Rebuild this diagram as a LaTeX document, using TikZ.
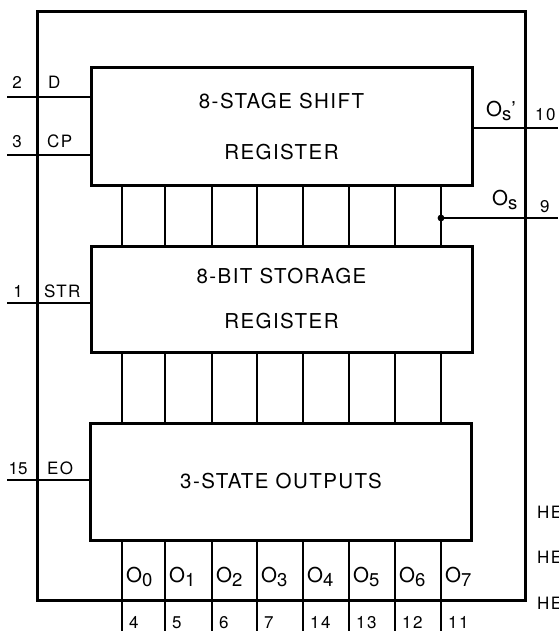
\documentclass[tikz,border=0pt]{standalone}
\usepackage{fontspec}
\setmainfont{TeX Gyre Heros}
\usetikzlibrary{positioning}

\begin{document}
\begin{tikzpicture}[x=1pt, y=-1pt,
  frame/.style={draw, line width=3pt, inner sep=0pt},
  block/.style={frame, minimum width=381pt, align=center,
    font=\fontsize{20.5}{51}\selectfont\addfontfeatures{LetterSpace=7}},
  wire/.style={line width=1.9pt},
  sig/.style={inner sep=0pt, anchor=base west,
    font=\fontsize{17}{17}\selectfont\addfontfeatures{LetterSpace=8}},
  pin/.style={inner sep=0pt, anchor=base, font=\fontsize{17}{17}\selectfont},
  outl/.style={inner sep=0pt, anchor=base west, font=\fontsize{20.5}{20}\selectfont}
]
\useasboundingbox (0,0) rectangle (558,631);
\clip (0,0) rectangle (558,631);

\node[frame, minimum width=488pt, minimum height=588pt] (chip) at (281,306) {};
\node[block, minimum height=117pt] (shift) at (281.5,126.5) {8-STAGE SHIFT\\REGISTER};
\node[block, minimum height=106pt] (store) at (281.5,299) {8-BIT STORAGE\\[-6pt]REGISTER};
\node[block, minimum height=117pt] (outs) at (281,481.5) {3-STATE OUTPUTS};

\coordinate (inD) at (7,97);
\coordinate (inCP) at (7,155);
\coordinate (inSTR) at (7,303);
\coordinate (inEO) at (7,480);
\draw[wire] (inD) -- (inD -| shift.west);
\draw[wire] (inCP) -- (inCP -| shift.west);
\draw[wire] (inSTR) -- (inSTR -| store.west);
\draw[wire] (inEO) -- (inEO -| outs.west);
\node[pin] (n2) at (17,89) {2};
\node[sig] (lD) at (48,89) {D};
\node[pin] (n3) at (17,148) {3};
\node[sig] (lCP) at (47,148) {CP};
\node[pin] (n1) at (18,297) {1};
\node[sig] (lSTR) at (44,297) {STR};
\node[pin] (n15) at (18,474) {15};
\node[sig] (lEO) at (47,474) {EO};

\foreach[count=\i from 0] \x/\p in {122/4,165/5,212/6,257/7,303/14,349/13,395/12,441/11} {
  \coordinate (q\i) at (\x,631);
  \draw[wire] (shift.south -| q\i) -- (store.north -| q\i);
  \draw[wire] (store.south -| q\i) -- (outs.north -| q\i);
  \draw[wire] (outs.south -| q\i) -- (q\i);
  \node[outl] (o\i) at (\x+4,582) {O\raisebox{-4pt}{\fontsize{18.5}{18}\selectfont\i}};
  \node[sig] (p\i) at (\x+7,628) {\p};
}

\coordinate (osp) at (558,128);
\coordinate (os) at (558,218);
\draw[wire] (shift.east |- osp) -- (osp);
\draw[wire] (os -| q7) -- (os);
\fill (os -| q7) circle (3.4pt);
\node[outl] (lOsp) at (486,117) {O\raisebox{-4pt}{\fontsize{18.5}{18}\selectfont s}'};
\node[sig] (n10) at (535,121) {10};
\node[outl] (lOs) at (492,205) {O\raisebox{-4pt}{\fontsize{18.5}{18}\selectfont s}};
\node[sig] (n9) at (540,212) {9};

\node[sig] (he1) at (537,518) {HE};
\node[sig] (he2) at (537,563) {HE};
\node[sig] (he3) at (537,609) {HE};
\end{tikzpicture}
\end{document}
